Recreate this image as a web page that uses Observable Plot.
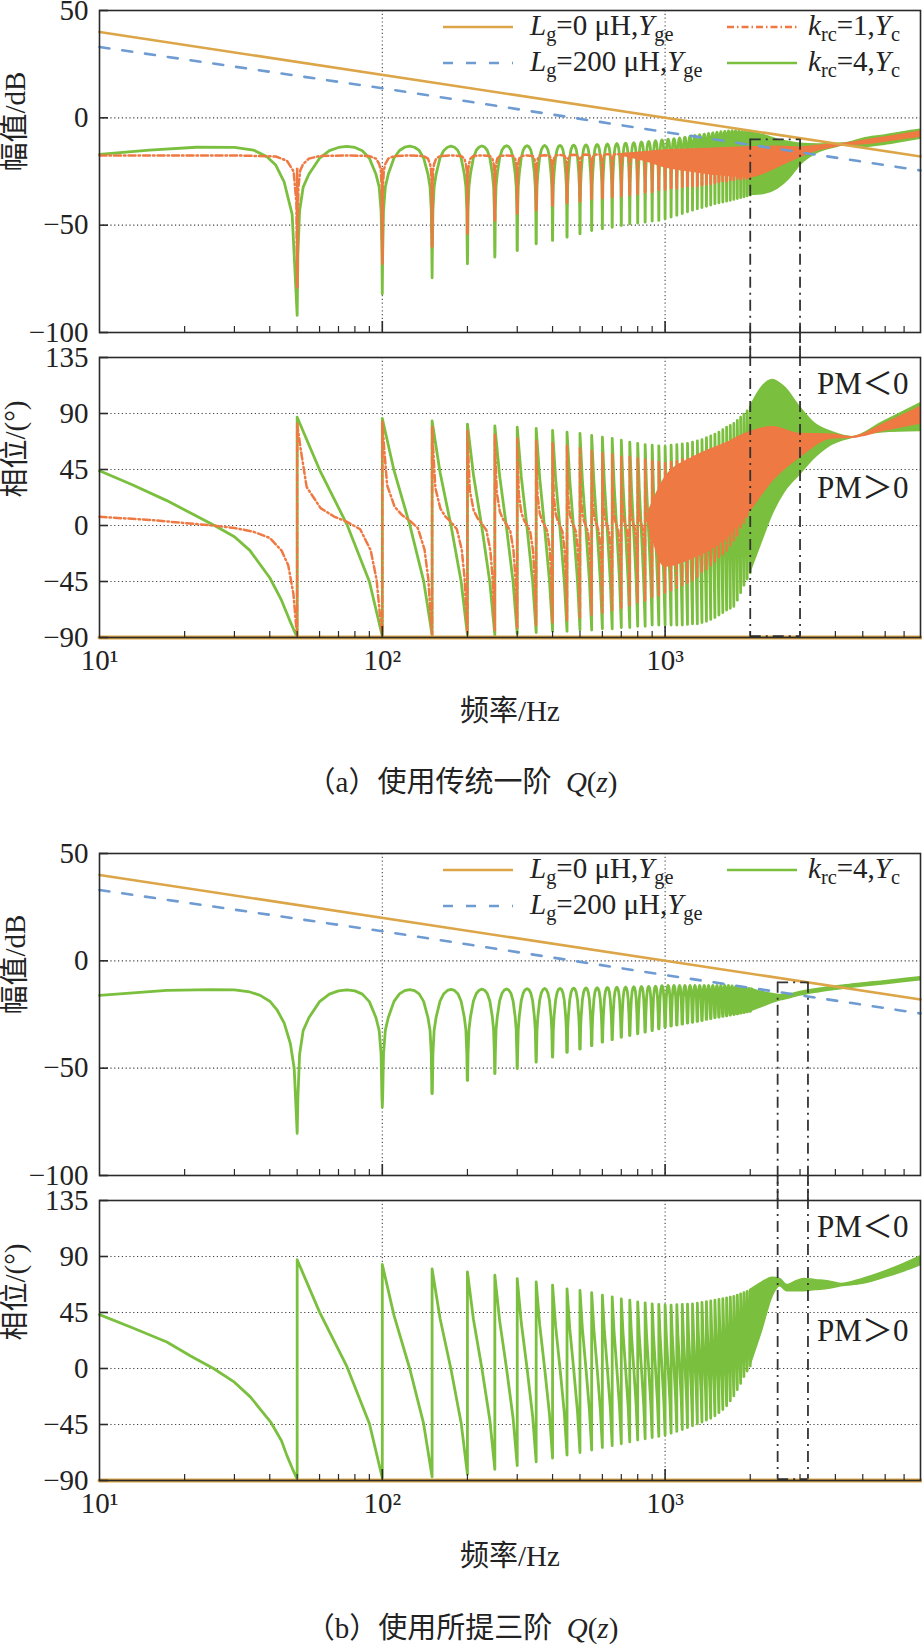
<!DOCTYPE html>
<html lang="zh">
<head>
<meta charset="utf-8">
<title>Yc 与 Yge 频率特性</title>
<script src="https://cdn.jsdelivr.net/npm/d3@7"></script>
<script src="https://cdn.jsdelivr.net/npm/@observablehq/plot@0.6"></script>
<style>
  html, body { margin: 0; background: #fff; }
  #fig { position: relative; width: 922px; height: 1645px; overflow: hidden;
         font-family: "Liberation Serif", "Noto Sans CJK SC", serif; color: #222; }
  #fig > svg { position: absolute; left: 0; }
  #fig svg text { font-family: "Liberation Serif", "Noto Sans CJK SC", serif; }
  .txt { position: absolute; white-space: nowrap; line-height: 1; font-size: 29px; }
  .txt sub { font-size: 0.7em; vertical-align: baseline; position: relative; top: 0.32em; }
</style>
</head>
<body>
<div id="fig"></div>
<script>
// ---------- frequency axis ----------
const freqDomain = [10, 8000];
const decadeTicks = [10, 100, 1000];
const decadeLabels = {10: "10¹", 100: "10²", 1000: "10³"};
const minorTicks = [20, 30, 40, 50, 60, 70, 80, 90, 200, 300, 400, 500, 600, 700, 800, 900,
                    2000, 3000, 4000, 5000, 6000, 7000];
const harmonics = [50, 100, 150, 200, 250, 300, 350, 400, 450, 500,
                   550, 600, 650, 700, 750, 800, 850, 900, 950, 1000,
                   1050, 1100, 1150, 1200, 1250, 1300, 1350, 1400, 1450, 1500,
                   1550, 1600, 1650, 1700, 1750, 1800, 1850, 1900, 1950, 2000];

// ---------- value axes ----------
const magDomain = [-100, 50];
const magTicks = [50, 0, -50, -100];
const phaseDomain = [-90, 135];
const phaseTicks = [135, 90, 45, 0, -45, -90];

// ---------- grid admittance Yge ----------
const ygeFreq = [10, 8000];
const lg0Mag = [40, -18];
const lg0Phase = [-90, -90];
const lg200MagFreq = [10, 100, 1000, 8000];
const lg200Mag = [33, 13.8, -6.6, -24.5];
const lg200Phase = [-90, -90];

// ---------- notch / ramp shapes of the repetitive controller ----------
// distance from a harmonic (share of the 50 Hz spacing) -> dB below the arch top
const k4NotchDist = [0.5, 0.4, 0.3, 0.2, 0.1, 0.05, 0.02, 0.006];
const k4NotchDrop = [0, -0.5, -2, -5.5, -13, -19, -30, -50];
const k1NotchDist = [0.5, 0.2, 0.1, 0.05, 0.025, 0.01, 0.003];
const k1NotchDrop = [0, -0.3, -1.5, -4, -7, -15, -40];
// position inside a harmonic interval -> share of the fall from top to bottom
const k4RampPos = [0, 0.2, 0.5, 0.8];
const k4RampShare = [0, 0.24, 0.49, 0.75];
const k1RampPos = [0, 0.026, 0.08, 0.21, 0.35, 0.5, 0.67, 0.82, 0.91, 0.96];
const k1RampShare = [0, 0.11, 0.30, 0.40, 0.44, 0.465, 0.50, 0.60, 0.74, 0.9];

// ===== (a) first-order Q(z) =====
// magnitude, k_rc = 4
const aK4MagLowF = [10, 15, 22, 30, 35, 39, 42, 45, 48];
const aK4MagLowV = [-17, -15, -13.7, -13.8, -15, -18, -22, -30, -45];
const aK4MagDepth = [-92, -82, -74.5, -68, -64.9, -61.8, -58.7, -57.1, -55.6, -54,
                     -52.5, -51.7, -51, -50.2, -49.4, -49, -48.6, -48.1, -47.8, -47,
                     -46.2, -45.4, -44.6, -43.8, -43, -42.4, -41.8, -41.2, -40.6, -40,
                     -39.6, -39.2, -38.8, -38.4, -38, -37.6, -37.2, -36.8, -36.4, -36];
const aK4MagArch = [-13.3, -13.2, -13.2, -13.1, -13, -13, -12.9, -12.8, -12.7, -12.6,
                    -12.4, -12.2, -12, -11.8, -11.6, -11.3, -11, -10.7, -10.3, -10,
                    -9.7, -9.4, -9, -8.6, -8.2, -7.9, -7.6, -7.3, -7, -6.7,
                    -6.5, -6.3, -6.1, -6, -6, -6.1, -6.3, -6.4, -6.6, -6.8];
const aK4MagBandF = [2000, 2250, 2500, 2750, 3000, 3500, 4000, 4400, 5000, 6000, 7000, 8000];
const aK4MagBandHi = [-6.7, -8.2, -10.2, -11.3, -12.1, -12.4, -12.1, -11.8, -9.8, -8.2, -6.7, -5.6];
const aK4MagBandLo = [-36, -35.4, -33, -28.4, -22.2, -16, -13.7, -12.4, -13.5, -12.5, -11, -9.8];
// magnitude, k_rc = 1
const aK1MagLowF = [10, 30, 42, 46, 48.6, 49.7];
const aK1MagLowV = [-17.5, -17.5, -18, -20, -25, -40];
const aK1MagDepth = [-79.5, -68, -60.2, -54, -48, -45, -43, -41, -40, -39,
                     -38, -37.5, -37, -36.5, -36, -35.5, -35, -34.5, -34, -33.5,
                     -33.2, -32.9, -32.6, -32.3, -32, -31.7, -31.4, -31.1, -30.8, -30.5,
                     -30.2, -29.9, -29.6, -29.3, -29, -28.8, -28.6, -28.4, -28.2, -28];
const aK1MagArch = [-17.5, -17.5, -17.5, -17.5, -17.5, -17.5, -17.4, -17.3, -17.2, -17.1,
                    -17, -16.9, -16.8, -16.7, -16.6, -16.4, -16.2, -16, -15.8, -15.5,
                    -15.4, -15.3, -15.2, -15.1, -15, -14.9, -14.8, -14.7, -14.6, -14.5,
                    -14.4, -14.3, -14.2, -14.1, -14, -14, -13.9, -13.9, -13.8, -13.8];
const aK1MagBandF = [700, 850, 1000, 1250, 1500, 1750, 2000, 2500, 3000, 3500, 4000, 4400, 5000, 6000, 7000, 8000];
const aK1MagBandHi = [-17, -16, -15.2, -14.8, -14.4, -14, -13.7, -13.5, -13.8, -13, -12.5, -12, -10.8, -9.2, -7.8, -6.5];
const aK1MagBandLo = [-17.5, -20, -23, -25, -26.5, -27.2, -27.6, -23, -18.3, -15, -13.5, -12.5, -12.3, -11, -9.8, -8.8];
// phase, k_rc = 4
const aK4PhLowF = [10, 13, 17.3, 21, 25.5, 30, 34, 40, 44, 47];
const aK4PhLowV = [44, 33, 20, 10, 0, -9, -20, -42, -60, -76];
const aK4PhTop = [87, 86, 84, 81.5, 80, 79, 78, 76.5, 75, 74, 72.5, 71, 70, 68.5, 67, 66, 65, 64.5, 64, 63.5,
                  64.5, 65, 65.5, 66, 67, 68, 69, 70.5, 72, 73.5, 75, 77, 79, 80.5, 82, 84.5, 87, 89.5, 92, 95];
const aK4PhBottom = [-90, -89, -88, -88, -88, -87, -86, -85, -85, -84, -84, -83, -83, -82, -82, -81, -81, -80, -80, -80,
                     -80, -80, -80, -79.5, -79, -79, -78, -77, -75.5, -74, -72, -70, -68, -66.5, -65, -60, -54, -48, -43, -38];
const aK4PhBandF = [2000, 2200, 2400, 2650, 3000, 3400, 3900, 4600, 5900, 8000];
const aK4PhBandHi = [95, 111, 117, 111, 95, 81.5, 75, 71, 83, 98];
const aK4PhBandLo = [-38, -13, 9, 27, 41, 54.6, 65, 70.5, 75, 76];
// phase, k_rc = 1
const aK1PhLowF = [10, 15, 20, 25, 30, 35, 40, 44, 46.5, 48.5];
const aK1PhLowV = [7, 4.5, 2, 0, -2, -5, -10, -20, -32, -55];
const aK1PhTop = [82, 84, 80, 76, 73, 70, 68, 66, 64, 62, 60, 58, 57, 56, 55, 54, 53, 52, 51, 50,
                  51, 52, 53, 54, 55, 56.5, 58, 59.5, 61, 62.5, 64, 65.5, 67, 68, 69.5, 71, 72, 73, 74, 75];
const aK1PhBottom = [-90, -88, -88, -86, -84, -82, -80, -78, -76, -74, -72, -70, -68, -66, -64, -62, -60, -58, -56, -54,
                     -52, -50, -48, -46, -44, -41, -38, -35, -32, -29, -26, -23, -20, -16, -12, -8, -3, 2, 7, 12];
const aK1PhBandF = [880, 1000, 1260, 1650, 2000, 2400, 3000, 3900, 4600, 5900, 8000];
const aK1PhBandHi = [12, 38, 54.6, 66, 75, 79, 73.5, 73, 71, 81, 95];
const aK1PhBandLo = [2, -33, -26, -10, 12, 36, 55, 70, 70.5, 76, 82];
// critical band
const aBoxF = [2000, 3000];

// ===== (b) proposed third-order Q(z) =====
const bK4MagLowF = [10, 17.3, 25, 30, 34, 37, 40, 42.5, 45, 47.3, 48.8];
const bK4MagLowV = [-16.1, -13.8, -13.4, -13.5, -14.5, -16.1, -18.8, -23, -29, -38.5, -50];
const bK4MagDepth = [-80.4, -68.2, -61.8, -55.7, -52.5, -50.2, -47.2, -44.9, -42.6, -41.1,
                     -39.5, -37.9, -36.7, -35.6, -34.8, -34, -33.2, -32.5, -31.7, -30.9,
                     -30.4, -29.9, -29.5, -29, -28.6, -28.2, -27.8, -27.3, -26.9, -26.5,
                     -26.2, -25.9, -25.6, -25.3, -25, -24.7, -24.4, -24.1, -23.8, -23.5];
const bK4MagArch = [-13.5, -13.4, -13.3, -13.2, -13.1, -13, -12.9, -12.8, -12.7, -12.6,
                    -12.5, -12.4, -12.3, -12.2, -12.1, -12, -11.9, -11.8, -11.6, -11.5,
                    -11.5, -11.5, -11.5, -11.5, -11.5, -11.5, -11.5, -11.5, -11.5, -11.5,
                    -11.5, -11.5, -11.5, -11.7, -12, -12.2, -12.4, -12.6, -12.8, -13];
const bK4MagBandF = [2000, 2200, 2400, 2600, 2800, 3000, 3500, 4000, 4500, 5000, 6000, 7000, 8000];
const bK4MagBandHi = [-13, -14.5, -15.5, -16, -15.5, -14.5, -13, -12, -11.2, -10.5, -9.5, -8.5, -7.6];
const bK4MagBandLo = [-23.5, -21.5, -19.5, -18.2, -17.2, -16.2, -14.6, -13.5, -12.6, -12, -10.9, -9.9, -9];
const bK4PhLowF = [10, 13, 17.3, 21, 25.3, 30, 34.2, 40.3, 44, 46, 48];
const bK4PhLowV = [43.3, 33, 21.3, 10, 0, -11, -23, -43, -58, -70, -80];
const bK4PhTop = [87.4, 83.6, 80, 77.7, 75, 72.3, 69.6, 67, 64, 62.7, 61, 59, 57.5, 56, 55, 53.5, 52.7, 52, 51.5, 51,
                  51, 51.3, 51.6, 51.8, 52, 52.6, 53.2, 53.8, 54.4, 55, 55.6, 56.2, 56.8, 57.4, 58, 59, 60, 61, 62, 63];
const bK4PhBottom = [-89, -88, -87, -85, -81, -78, -75, -72, -69.5, -67.5, -65.5, -63.5, -62, -60.5, -59, -57.5, -56.5, -55.5, -54.5, -53.5,
                     -52, -50.5, -49, -47.5, -46, -44.5, -43, -41.5, -40, -38, -35.5, -33, -30, -26, -22, -17, -12, -6.5, -2, 2];
const bK4PhBandF = [2000, 2200, 2400, 2550, 2700, 2900, 3100, 3400, 3800, 4200, 5000, 6000, 7000, 8000];
const bK4PhBandHi = [63, 69, 73, 72, 67, 70, 72, 71, 70, 68, 72, 78, 84, 90];
const bK4PhBandLo = [2, 30, 58, 66, 62, 62, 62, 63, 64, 66, 68, 73, 78, 83];
const bBoxF = [2500, 3200];

// box edges and stability notes
const boxMagTop = -10;
const boxPhaseBottom = -89;
const pmNotes = [{label: "PM＜0", f: 5000, deg: 114}, {label: "PM＞0", f: 5000, deg: 30}];

// ---------- styling ----------
const SERIF = '"Liberation Serif", "Noto Sans CJK SC", serif';
const INK = "#222";
const GOLD = "#DCA548", BLUE = "#6E9BD2", ORANGE = "#EF7943", GREEN = "#7BBF3F";
const DASH_BLUE = "10,13", DASH_DOT = "7,3,1.5,3", DASH_BOX = "11,5,2,5";
const W = 922, ML = 99, MR = 2, FRAME_W = W - ML - MR;
const MAG_H = 322, PH_H = 280, GAP = 25;

// ---------- data builders ----------
const rows = (fs, vs) => fs.map((f, i) => ({f, v: vs[i]}));
const bandRows = (fs, hi, lo) => fs.map((f, i) => ({f, hi: hi[i], lo: lo[i]}));

function magnitudeComb(lowF, lowV, depth, arch, dist, drop) {
  const pts = rows(lowF, lowV);
  const step = harmonics[1] - harmonics[0];
  harmonics.forEach((h, i) => {
    if (i > 0) dist.forEach((d, k) => pts.push({f: h - d * step, v: Math.max(arch[i - 1] + drop[k], depth[i])}));
    pts.push({f: h, v: depth[i]});
    for (let k = dist.length - 1; k >= 0; k--) pts.push({f: h + dist[k] * step, v: Math.max(arch[i] + drop[k], depth[i])});
  });
  return pts;
}

function phaseComb(lowF, lowV, tops, bottoms, pos, share) {
  const pts = rows(lowF, lowV);
  const step = harmonics[1] - harmonics[0];
  harmonics.forEach((h, i) => {
    pts.push({f: h, v: bottoms[i]});
    const end = i + 1 < bottoms.length ? bottoms[i + 1] : bottoms[i];
    pos.forEach((t, k) => pts.push({f: h + t * step, v: tops[i] + (end - tops[i]) * share[k]}));
  });
  return pts;
}

// ---------- shared marks ----------
const signed = d => (d < 0 ? "−" + Math.abs(d) : String(d));

function gridMarks(ticks) {
  return [
    Plot.gridY(ticks, {stroke: "#444", strokeOpacity: 1, strokeWidth: 1.1, strokeDasharray: "1.2,2.6"}),
    Plot.gridX([100, 1000], {stroke: "#444", strokeOpacity: 1, strokeWidth: 1.1, strokeDasharray: "1.2,2.6"})
  ];
}

function frameMarks(ticks, label, frameH) {
  return [
    Plot.frame({stroke: "#2a2a2a", strokeWidth: 1.6}),
    Plot.tickX(minorTicks, {x: d => d, insetTop: frameH - 6, stroke: "#2a2a2a", strokeWidth: 1.2}),
    Plot.tickX([100, 1000], {x: d => d, insetTop: frameH - 11, stroke: "#2a2a2a", strokeWidth: 1.6}),
    Plot.tickY(ticks, {y: d => d, insetRight: FRAME_W - 9, stroke: "#2a2a2a", strokeWidth: 1.6}),
    Plot.axisY(ticks, {tickSize: 0, tickPadding: 11, tickFormat: signed, label: null,
                       fontSize: 29, fontFamily: SERIF, fill: INK}),
    Plot.text([label], {frameAnchor: "left", text: d => d, rotate: -90, dx: -84,
                        fontSize: 29, fontFamily: SERIF, fill: INK})
  ];
}

function phaseExtras() {
  return [
    Plot.axisX(decadeTicks, {tickSize: 0, tickPadding: 12, tickFormat: d => decadeLabels[d], label: null,
                             fontSize: 29, fontFamily: SERIF, fill: INK}),
    Plot.text(pmNotes, {x: "f", y: "deg", text: "label", fontSize: 31, fontFamily: SERIF, fill: INK})
  ];
}

const plotStyle = {background: "transparent", overflow: "visible", fontFamily: SERIF, fontSize: "29px", color: INK};
const fig = document.getElementById("fig");

function mount(top, height, marginTop, marginBottom, yDomain, marks, showX) {
  const svg = Plot.plot({
    width: W, height, marginTop, marginBottom, marginLeft: ML, marginRight: MR,
    x: {type: "log", domain: freqDomain, ...(showX ? {} : {axis: null})},
    y: {domain: yDomain},
    style: plotStyle,
    marks
  });
  svg.style.top = top + "px";
  fig.appendChild(svg);
}

function magnitudePanel(top, p) {
  const marks = [
    ...gridMarks(magTicks),
    Plot.areaY(bandRows(p.k4BandF, p.k4BandHi, p.k4BandLo), {x: "f", y1: "lo", y2: "hi", fill: GREEN, stroke: GREEN, strokeWidth: 1.5, curve: "monotone-x"}),
    Plot.line(magnitudeComb(p.k4LowF, p.k4LowV, p.k4Depth, p.k4Arch, k4NotchDist, k4NotchDrop), {x: "f", y: "v", stroke: GREEN, strokeWidth: 2.8})
  ];
  if (p.k1Depth) {
    marks.push(
      Plot.ruleX(harmonics, {x: d => d, y1: (d, i) => p.k1Arch[i] - 6, y2: (d, i) => p.k1Depth[i], stroke: ORANGE, strokeWidth: 2.6}),
      Plot.line(magnitudeComb(p.k1LowF, p.k1LowV, p.k1Depth, p.k1Arch, k1NotchDist, k1NotchDrop), {x: "f", y: "v", stroke: ORANGE, strokeWidth: 2.5, strokeDasharray: DASH_DOT}),
      Plot.areaY(bandRows(p.k1BandF, p.k1BandHi, p.k1BandLo), {x: "f", y1: "lo", y2: "hi", fill: ORANGE, stroke: ORANGE, strokeWidth: 1.5, curve: "monotone-x"})
    );
  }
  marks.push(
    Plot.line(rows(lg200MagFreq, lg200Mag), {x: "f", y: "v", stroke: BLUE, strokeWidth: 2.6, strokeDasharray: DASH_BLUE}),
    Plot.line(rows(ygeFreq, lg0Mag), {x: "f", y: "v", stroke: GOLD, strokeWidth: 2.6}),
    Plot.ruleY([boxMagTop], {x1: p.boxF[0], x2: p.boxF[1], stroke: "#333", strokeWidth: 1.8, strokeDasharray: DASH_BOX}),
    Plot.ruleX(p.boxF, {x: d => d, y1: boxMagTop, y2: magDomain[0], insetBottom: -GAP, stroke: "#333", strokeWidth: 1.8, strokeDasharray: DASH_BOX}),
    ...frameMarks(magTicks, "幅值/dB", MAG_H)
  );
  mount(top, 10 + MAG_H + GAP, 10, GAP, magDomain, marks, false);
}

function phasePanel(top, p) {
  const marks = [
    ...gridMarks(phaseTicks),
    Plot.areaY(bandRows(p.k4BandF, p.k4BandHi, p.k4BandLo), {x: "f", y1: "lo", y2: "hi", fill: GREEN, stroke: GREEN, strokeWidth: 1.5, curve: "monotone-x"}),
    Plot.line(phaseComb(p.k4LowF, p.k4LowV, p.k4Top, p.k4Bottom, k4RampPos, k4RampShare), {x: "f", y: "v", stroke: GREEN, strokeWidth: 2.8})
  ];
  if (p.k1Top) {
    marks.push(
      Plot.line(phaseComb(p.k1LowF, p.k1LowV, p.k1Top, p.k1Bottom, k1RampPos, k1RampShare), {x: "f", y: "v", stroke: ORANGE, strokeWidth: 2.5, strokeDasharray: DASH_DOT}),
      Plot.areaY(bandRows(p.k1BandF, p.k1BandHi, p.k1BandLo), {x: "f", y1: "lo", y2: "hi", fill: ORANGE, stroke: ORANGE, strokeWidth: 1.5, curve: "monotone-x"})
    );
  }
  marks.push(
    Plot.line(rows(ygeFreq, lg200Phase), {x: "f", y: "v", stroke: BLUE, strokeWidth: 2.6, strokeDasharray: DASH_BLUE}),
    Plot.line(rows(ygeFreq, lg0Phase), {x: "f", y: "v", stroke: GOLD, strokeWidth: 4}),
    Plot.ruleY([boxPhaseBottom], {x1: p.boxF[0], x2: p.boxF[1], stroke: "#333", strokeWidth: 1.8, strokeDasharray: DASH_BOX}),
    Plot.ruleX(p.boxF, {x: d => d, y1: phaseDomain[1], y2: boxPhaseBottom, insetTop: -GAP, stroke: "#333", strokeWidth: 1.8, strokeDasharray: DASH_BOX}),
    ...frameMarks(phaseTicks, "相位/(°)", PH_H),
    ...phaseExtras()
  );
  mount(top, PH_H + 50, 0, 50, phaseDomain, marks, true);
}

// ---------- legend and captions ----------
const legendItems = {
  lg0: {html: "<i>L</i><sub>g</sub>=0 μH,<i>Y</i><sub>ge</sub>", stroke: GOLD, dash: null},
  lg200: {html: "<i>L</i><sub>g</sub>=200 μH,<i>Y</i><sub>ge</sub>", stroke: BLUE, dash: DASH_BLUE},
  k1: {html: "<i>k</i><sub>rc</sub>=1,<i>Y</i><sub>c</sub>", stroke: ORANGE, dash: DASH_DOT},
  k4: {html: "<i>k</i><sub>rc</sub>=4,<i>Y</i><sub>c</sub>", stroke: GREEN, dash: null}
};
const legendCols = [{x0: 443, x1: 513, text: 530}, {x0: 727, x1: 797, text: 808}];

function legend(frameTop, entries) {
  for (const [key, col, row] of entries) {
    const item = legendItems[key], c = legendCols[col];
    const y = frameTop + 17 + row * 36;
    const s = document.createElementNS("http://www.w3.org/2000/svg", "svg");
    s.setAttribute("width", c.x1 - c.x0);
    s.setAttribute("height", 8);
    s.style.cssText = `position:absolute;left:${c.x0}px;top:${y - 4}px;overflow:visible`;
    s.innerHTML = `<line x1="0" x2="${c.x1 - c.x0}" y1="4" y2="4" stroke="${item.stroke}" stroke-width="2.6"${item.dash ? ` stroke-dasharray="${item.dash}"` : ""}/>`;
    fig.appendChild(s);
    text(item.html, c.text, y - 16);
  }
}

function text(html, left, top, centered) {
  const d = document.createElement("div");
  d.className = "txt";
  d.innerHTML = html;
  d.style.left = left + "px";
  d.style.top = top + "px";
  if (centered) d.style.transform = "translateX(-50%)";
  fig.appendChild(d);
  return d;
}

// ---------- figure (a) ----------
magnitudePanel(0, {
  k4LowF: aK4MagLowF, k4LowV: aK4MagLowV, k4Depth: aK4MagDepth, k4Arch: aK4MagArch,
  k4BandF: aK4MagBandF, k4BandHi: aK4MagBandHi, k4BandLo: aK4MagBandLo,
  k1LowF: aK1MagLowF, k1LowV: aK1MagLowV, k1Depth: aK1MagDepth, k1Arch: aK1MagArch,
  k1BandF: aK1MagBandF, k1BandHi: aK1MagBandHi, k1BandLo: aK1MagBandLo,
  boxF: aBoxF
});
phasePanel(10 + MAG_H + GAP, {
  k4LowF: aK4PhLowF, k4LowV: aK4PhLowV, k4Top: aK4PhTop, k4Bottom: aK4PhBottom,
  k4BandF: aK4PhBandF, k4BandHi: aK4PhBandHi, k4BandLo: aK4PhBandLo,
  k1LowF: aK1PhLowF, k1LowV: aK1PhLowV, k1Top: aK1PhTop, k1Bottom: aK1PhBottom,
  k1BandF: aK1PhBandF, k1BandHi: aK1PhBandHi, k1BandLo: aK1PhBandLo,
  boxF: aBoxF
});
legend(10, [["lg0", 0, 0], ["lg200", 0, 1], ["k1", 1, 0], ["k4", 1, 1]]);
text("频率/Hz", 510, 697, true);
text("（a）使用传统一阶&nbsp;&nbsp;<i>Q</i>(<i>z</i>)", 462, 768, true);

// ---------- figure (b) ----------
const bTop = 843;
magnitudePanel(bTop, {
  k4LowF: bK4MagLowF, k4LowV: bK4MagLowV, k4Depth: bK4MagDepth, k4Arch: bK4MagArch,
  k4BandF: bK4MagBandF, k4BandHi: bK4MagBandHi, k4BandLo: bK4MagBandLo,
  boxF: bBoxF
});
phasePanel(bTop + 10 + MAG_H + GAP, {
  k4LowF: bK4PhLowF, k4LowV: bK4PhLowV, k4Top: bK4PhTop, k4Bottom: bK4PhBottom,
  k4BandF: bK4PhBandF, k4BandHi: bK4PhBandHi, k4BandLo: bK4PhBandLo,
  boxF: bBoxF
});
legend(bTop + 10, [["lg0", 0, 0], ["lg200", 0, 1], ["k4", 1, 0]]);
text("频率/Hz", 510, 1542, true);
text("（b）使用所提三阶&nbsp;&nbsp;<i>Q</i>(<i>z</i>)", 462, 1614, true);
</script>
</body>
</html>
